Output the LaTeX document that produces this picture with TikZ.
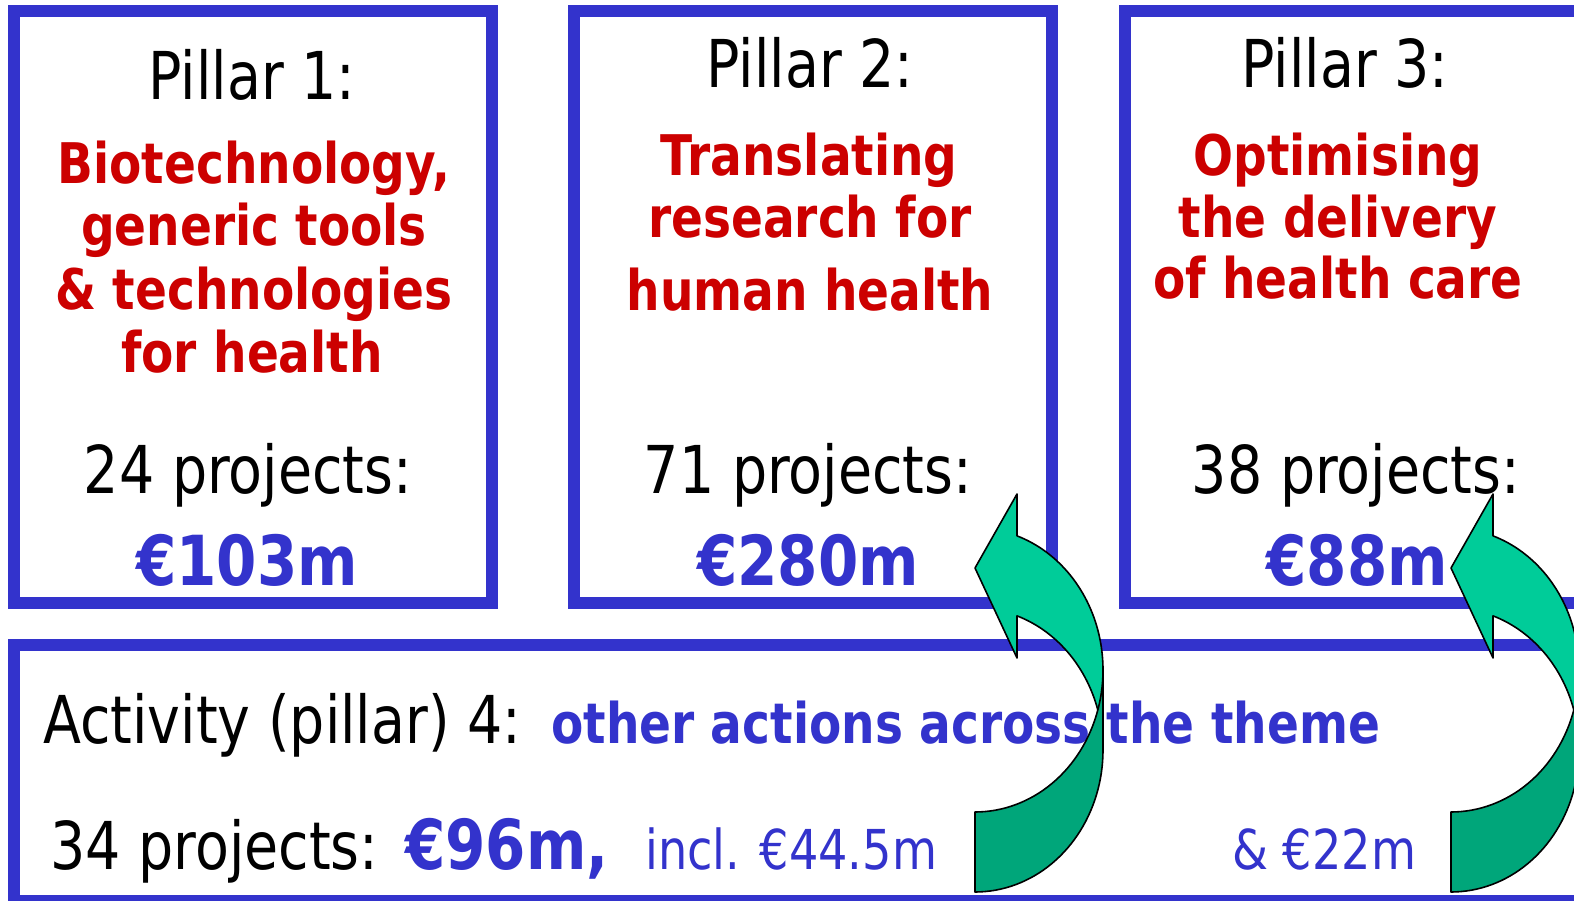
\documentclass[tikz,border=0pt]{standalone}
\usepackage{fontspec}
\setmainfont{DejaVu Sans}[FakeStretch=0.84]
\definecolor{bx}{HTML}{3333CC}
\definecolor{rd}{HTML}{CC0000}
\definecolor{lg}{HTML}{00CC99}
\definecolor{dg}{HTML}{00A67A}
\begin{document}
\begin{tikzpicture}[x=1pt,y=-1pt,
  pillarbox/.style={draw=bx, line width=12pt},
  regtxt/.style={font=\fontsize{66}{70}\selectfont, inner sep=0pt, anchor=base},
  redtxt/.style={font=\fontsize{56}{60}\selectfont\bfseries, text=rd, inner sep=0pt, anchor=base},
  amttxt/.style={font=\fontsize{69}{72}\selectfont\bfseries, text=bx, inner sep=0pt, anchor=base},
  bluebold/.style={font=\fontsize{56}{60}\selectfont\bfseries, text=bx, inner sep=0pt, anchor=base west},
  bluereg/.style={font=\fontsize{55}{60}\selectfont, text=bx, inner sep=0pt, anchor=base west},
  lightpart/.style={fill=lg, draw=black, line width=1.6pt, line join=round},
  darkpart/.style={fill=dg, draw=black, line width=1.6pt, line join=round}]
\useasboundingbox (0,0) rectangle (1574,901);
\clip (0,0) rectangle (1574,901);
\fill[white] (0,0) rectangle (1574,901);
% boxes
\draw[pillarbox] (14,11) rectangle (492,603);
\draw[pillarbox] (574,11) rectangle (1052,603);
\draw[pillarbox] (1125,11) rectangle (1700,603);
\draw[pillarbox] (14,645) rectangle (1700,901);
% pillar 1
\node[regtxt] (p1) at (252,100) {Pillar 1:};
\node[redtxt] (p1a) at (254,184) {Biotechnology,};
\node[redtxt] (p1b) at (254,246) {generic tools};
\node[redtxt] (p1c) at (254,309) {\& technologies};
\node[redtxt] (p1d) at (252,372) {for health};
\node[regtxt] (p1n) at (248,493) {24 projects:};
\node[amttxt] (p1m) at (247,585) {€103m};
% pillar 2
\node[regtxt] (p2) at (810,88) {Pillar 2:};
\node[redtxt] (p2a) at (809,176) {Translating};
\node[redtxt] (p2b) at (810,238) {research for};
\node[redtxt] (p2c) at (810,311) {human health};
\node[regtxt] (p2n) at (808,493) {71 projects:};
\node[amttxt] (p2m) at (808,585) {€280m};
% pillar 3
\node[regtxt] (p3) at (1345,88) {Pillar 3:};
\node[redtxt] (p3a) at (1338,176) {Optimising};
\node[redtxt] (p3b) at (1338,238) {the delivery};
\node[redtxt] (p3c) at (1338,299) {of health care};
\node[regtxt] (p3n) at (1356,493) {38 projects:};
\node[amttxt] (p3m) at (1357,585) {€88m};
% activity 4
\node[regtxt, anchor=base west] (a4) at (43,743) {Activity (pillar) 4:};
\node[bluebold] (a4t) at (551,743) {other actions across the theme};
\node[regtxt, anchor=base west] (a4n) at (50,869) {34 projects:};
\node[amttxt, anchor=base west] (a4m) at (405,869) {€96m,};
\node[bluereg] (a4i) at (645,869) {incl. €44.5m};
\node[bluereg] (a4j) at (1232,869) {\& €22m};
% curved arrows
\foreach \dx in {0,476} {
\begin{scope}[xshift=\dx pt]
\path[lightpart] (1103,750)
  -- plot[variable=\t, domain=0:-70.85, samples=40] ({975+128*cos(\t)},{750+142*sin(\t)})
  -- (1017,658) -- (975,568) -- (1017,494)
  -- plot[variable=\t, domain=-70.85:0, samples=40] ({975+128*cos(\t)},{670+142*sin(\t)})
  -- cycle;
\path[darkpart] (1103,750)
  -- plot[variable=\t, domain=0:90, samples=40] ({975+128*cos(\t)},{750+142*sin(\t)})
  -- (975,812)
  -- plot[variable=\t, domain=90:0, samples=40] ({975+128*cos(\t)},{670+142*sin(\t)})
  -- cycle;
\end{scope}
}
\end{tikzpicture}
\end{document}
